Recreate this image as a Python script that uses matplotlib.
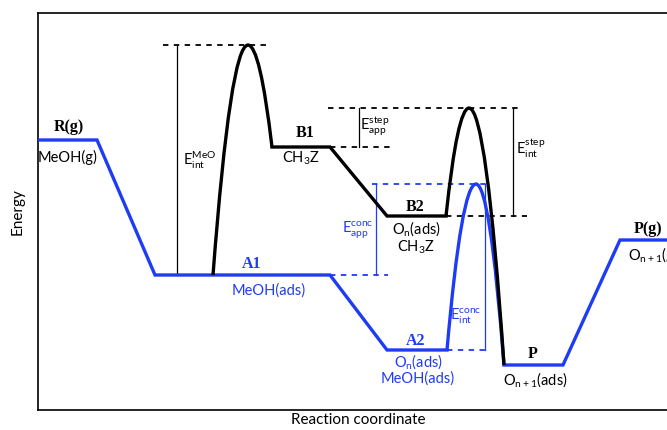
import matplotlib
matplotlib.use("Agg")
import matplotlib.pyplot as plt
from matplotlib.path import Path
from matplotlib.patches import PathPatch

plt.rcParams['font.family'] = ['Lato', 'DejaVu Sans']
plt.rcParams['mathtext.default'] = 'regular'

BLUE = '#1f3cf5'

# blue (concerted) path: plateaus
blue_names = ['R(g)', 'A1', 'A2', 'P', 'P(g)']
blue_x0 = [0, 117, 349, 466, 582]
blue_x1 = [59, 292, 409, 525, 640]
blue_E = [270, 135, 60, 45, 170]
ts_conc = (438, 226)

# black (stepwise) path
black_x0 = [234, 349]
black_x1 = [292, 408]
black_E = [263, 194]
ts_meo = (210, 365)
ts_step = (431, 302)
meo_start = 175


def barrier(ax, x0, y0, peak, x1, y1, color):
    px, py = peak
    verts = [(x0, y0), ((x0 + px) / 2, py), (px, py), ((px + x1) / 2, py), (x1, y1)]
    codes = [Path.MOVETO, Path.CURVE3, Path.CURVE3, Path.CURVE3, Path.CURVE3]
    ax.add_patch(PathPatch(Path(verts, codes), fill=False, ec=color, lw=2.4,
                           capstyle='butt', joinstyle='round', zorder=3))


fig = plt.figure(figsize=(6.67, 4.30), dpi=100)
ax = fig.add_axes([38 / 667, 20 / 430, 640 / 667, 397 / 430])
ax.set_xlim(0, 640)
ax.set_ylim(0, 397)
ax.set_xticks([])
ax.set_yticks([])
for s in ax.spines.values():
    s.set_linewidth(1.2)

# blue path
bx, by = [], []
for i in range(len(blue_E)):
    if i == 3:
        ax.plot(bx, by, color=BLUE, lw=2.4, solid_joinstyle='miter', zorder=3)
        bx, by = [], []
    bx += [blue_x0[i], blue_x1[i]]
    by += [blue_E[i], blue_E[i]]
ax.plot(bx, by, color=BLUE, lw=2.4, solid_joinstyle='miter', zorder=3)
barrier(ax, blue_x1[2], blue_E[2], ts_conc, blue_x0[3], blue_E[3], BLUE)

# black path
barrier(ax, meo_start, blue_E[1], ts_meo, black_x0[0], black_E[0], 'black')
ax.plot([black_x0[0], black_x1[0], black_x0[1], black_x1[1]],
        [black_E[0], black_E[0], black_E[1], black_E[1]],
        color='black', lw=2.4, solid_joinstyle='miter', zorder=3)
barrier(ax, black_x1[1], black_E[1], ts_step, blue_x0[3], blue_E[3], 'black')

# reference dashed lines
dash = dict(lw=1.3, ls=(0, (3, 3)))
ax.plot([125, 229], [ts_meo[1]] * 2, color='black', **dash)
ax.plot([black_x1[0], 357], [black_E[0]] * 2, color='black', **dash)
ax.plot([290, 482], [ts_step[1]] * 2, color='black', **dash)
ax.plot([black_x1[1], 489], [black_E[1]] * 2, color='black', **dash)
ax.plot([blue_x1[1], 350], [blue_E[1]] * 2, color=BLUE, **dash)
ax.plot([334, 449], [ts_conc[1]] * 2, color=BLUE, **dash)
ax.plot([blue_x1[2], 449], [blue_E[2]] * 2, color=BLUE, **dash)

# energy arrows (thin verticals)
ax.plot([139, 139], [blue_E[1], ts_meo[1]], color='black', lw=0.9)
ax.plot([321, 321], [black_E[0], ts_step[1]], color='black', lw=0.9)
ax.plot([475, 475], [black_E[1], ts_step[1]], color='black', lw=0.9)
ax.plot([338, 338], [blue_E[1], ts_conc[1]], color=BLUE, lw=0.9)
ax.plot([447, 447], [blue_E[2], ts_conc[1]], color=BLUE, lw=0.9)

# labels
serif = dict(family='Liberation Serif', fontweight='bold', fontsize=11.5,
             ha='center', va='center')
sans = dict(fontsize=10.5, ha='center', va='center')
elab = dict(fontsize=10.5, ha='center', va='center')

ax.text(31, 283, 'R(g)', **serif)
ax.text(30, 253, 'MeOH(g)', **sans)
ax.text(214, 146, 'A1', color=BLUE, **serif)
ax.text(231, 119, 'MeOH(ads)', color=BLUE, **sans)
ax.text(267, 277, 'B1', **serif)
ax.text(263, 252, '$CH_3Z$', **sans)
ax.text(377, 203, 'B2', **serif)
ax.text(378, 181, '$O_n$(ads)', **sans)
ax.text(378, 163, '$CH_3Z$', **sans)
ax.text(378, 69, 'A2', color=BLUE, **serif)
ax.text(380, 48, '$O_n$(ads)', color=BLUE, **sans)
ax.text(380, 31, 'MeOH(ads)', color=BLUE, **sans)
ax.text(495, 56, 'P', **serif)
ax.text(497, 30, '$O_{n+1}$(ads)', **sans)
ax.text(610, 181, 'P(g)', **serif)
ax.text(590, 155, '$O_{n+1}$(g)', fontsize=10.5, ha='left', va='center')

ax.text(162, 250, '$E^{MeO}_{int}$', **elab)
ax.text(337, 284, '$E^{step}_{app}$', **elab)
ax.text(493, 262, '$E^{step}_{int}$', **elab)
ax.text(320, 180, '$E^{conc}_{app}$', color=BLUE, **elab)
ax.text(428, 94, '$E^{conc}_{int}$', color=BLUE, **elab)

ax.set_xlabel('Reaction coordinate', fontsize=11, labelpad=2)
fig.text(18 / 667, 1 - 212 / 430, 'Energy', rotation=90, fontsize=11,
         ha='center', va='center')

fig.savefig('out.png', dpi=100)
